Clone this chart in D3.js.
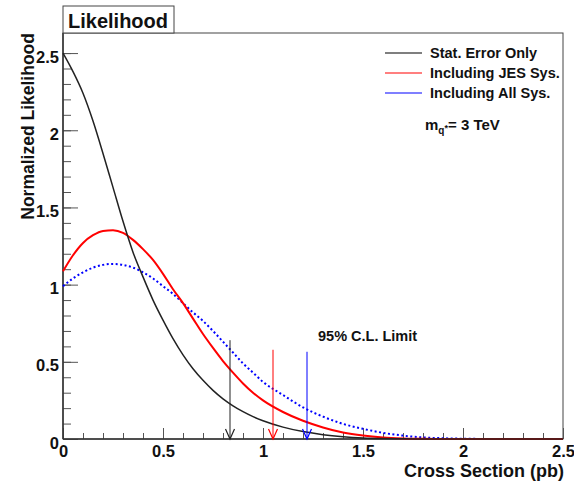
<!DOCTYPE html>
<html>
<head>
<meta charset="UTF-8">
<style>
  body { margin: 0; background: #fff; }
  svg { display: block; font-family: "Liberation Sans", Arial, Helvetica, sans-serif; font-weight: bold; }
</style>
</head>
<body>
<svg></svg>
<script src="https://d3js.org/d3.v7.min.js"></script>
<script>
// cross section grid (pb) shared by the three likelihood curves
let xs = [0, 0.05, 0.1, 0.15, 0.2, 0.25, 0.3, 0.35, 0.4, 0.45, 0.5, 0.55, 0.6, 0.65, 0.7, 0.75, 0.8, 0.85, 0.9, 0.95,
          1.0, 1.1, 1.2, 1.3, 1.4, 1.5, 1.6, 1.7, 1.8, 1.9, 2.0, 2.2, 2.5];
let statOnly = [2.5, 2.38, 2.24, 2.06, 1.85, 1.63, 1.41, 1.21, 1.05, 0.90, 0.77, 0.65, 0.545, 0.455, 0.38, 0.315, 0.26, 0.215, 0.177, 0.145,
                0.118, 0.077, 0.048, 0.028, 0.015, 0.007, 0.003, 0.001, 0, 0, 0, 0, 0];
let jesSys = [1.086, 1.19, 1.27, 1.32, 1.348, 1.352, 1.335, 1.29, 1.23, 1.16, 1.07, 0.97, 0.88, 0.78, 0.68, 0.59, 0.505, 0.43, 0.36, 0.30,
              0.25, 0.175, 0.118, 0.075, 0.042, 0.022, 0.01, 0.004, 0.001, 0, 0, 0, 0];
let allSys = [0.99, 1.04, 1.08, 1.11, 1.128, 1.134, 1.128, 1.11, 1.08, 1.04, 0.99, 0.94, 0.88, 0.82, 0.765, 0.70, 0.63, 0.56, 0.49, 0.43,
              0.37, 0.285, 0.205, 0.145, 0.098, 0.066, 0.04, 0.022, 0.01, 0.005, 0.002, 0, 0];

// 95% CL limits and arrow tops
let limitNames = ["Stat. Error Only", "Including JES Sys.", "Including All Sys."];
let limitValues = [0.835, 1.05, 1.22];
let arrowTops = [0.64, 0.578, 0.565];
let colors = ["#222222", "#ff0000", "#0000ff"];

let width = 574, height = 482;
let svg = d3.select("svg").attr("width", width).attr("height", height);

let x = d3.scaleLinear().domain([0, 2.5]).range([63, 563]);
let y = d3.scaleLinear().domain([0, 2.63]).range([439, 33]);

// frame
svg.append("rect")
  .attr("x", 63).attr("y", 33).attr("width", 500).attr("height", 406)
  .attr("fill", "none").attr("stroke", "#444").attr("stroke-width", 1);

// y axis, ticks inward
let fmt = d3.format("~g");
svg.append("g")
  .attr("transform", "translate(63,0)")
  .call(d3.axisLeft(y).tickValues(d3.range(0, 2.6, 0.1)).tickSize(-8).tickFormat(""))
  .call(g => g.select(".domain").remove())
  .selectAll("line").attr("stroke", "#555");
let yAx = svg.append("g")
  .attr("transform", "translate(63,0)")
  .call(d3.axisLeft(y).tickValues([0, 0.5, 1, 1.5, 2, 2.5]).tickSize(-15).tickPadding(4).tickFormat(fmt));
yAx.select(".domain").remove();
yAx.selectAll("line").attr("stroke", "#555");
yAx.selectAll("text").attr("dy", "0.55em").style("font-size", "16.5px").attr("fill", "#111")
  .style("font-family", "'Liberation Sans', Arial, sans-serif").style("font-weight", "bold");

// x axis, ticks inward
svg.append("g")
  .attr("transform", "translate(0,439)")
  .call(d3.axisBottom(x).tickValues(d3.range(0, 2.55, 0.1)).tickSize(-6).tickFormat(""))
  .call(g => g.select(".domain").remove())
  .selectAll("line").attr("stroke", "#555");
let xAx = svg.append("g")
  .attr("transform", "translate(0,439)")
  .call(d3.axisBottom(x).tickValues([0, 0.5, 1, 1.5, 2, 2.5]).tickSize(-11).tickPadding(6).tickFormat(fmt));
xAx.select(".domain").remove();
xAx.selectAll("line").attr("stroke", "#555");
xAx.selectAll("text").style("font-size", "16.5px").attr("fill", "#111")
  .style("font-family", "'Liberation Sans', Arial, sans-serif").style("font-weight", "bold");

// axis lines
svg.append("line").attr("x1", 63).attr("x2", 63).attr("y1", 33).attr("y2", 439)
  .attr("stroke", "#333").attr("stroke-width", 1.5);
svg.append("line").attr("x1", 63).attr("x2", 563).attr("y1", 439).attr("y2", 439)
  .attr("stroke", "#333").attr("stroke-width", 1.5);

// axis titles
svg.append("text")
  .attr("transform", "translate(34,33) rotate(-90)")
  .attr("text-anchor", "end")
  .style("font-size", "17.5px").attr("fill", "#111")
  .text("Normalized Likelihood");
svg.append("text")
  .attr("x", 564).attr("y", 477)
  .attr("text-anchor", "end")
  .style("font-size", "18px").attr("fill", "#111")
  .text("Cross Section (pb)");

// curves
let line = d3.line()
  .x((d, i) => x(xs[i]))
  .y(d => y(d))
  .curve(d3.curveMonotoneX);

svg.append("path").datum(allSys)
  .attr("d", line).attr("fill", "none")
  .attr("stroke", "#0000ff").attr("stroke-width", 2).attr("stroke-dasharray", "2,2.5");
svg.append("path").datum(jesSys)
  .attr("d", line).attr("fill", "none")
  .attr("stroke", "#ff0000").attr("stroke-width", 2);
svg.append("path").datum(statOnly)
  .attr("d", line).attr("fill", "none")
  .attr("stroke", "#222").attr("stroke-width", 1.5);

// limit arrows
limitValues.forEach((v, i) => {
  let ax = x(v), y0 = y(0);
  svg.append("line")
    .attr("x1", ax).attr("x2", ax).attr("y1", y(arrowTops[i])).attr("y2", y0)
    .attr("stroke", colors[i]).attr("stroke-width", 1);
  svg.append("path")
    .attr("d", "M" + (ax - 4.5) + "," + (y0 - 10) + "L" + ax + "," + y0 + "L" + (ax + 4.5) + "," + (y0 - 10))
    .attr("fill", "none").attr("stroke", colors[i]).attr("stroke-width", 1.2);
});

svg.append("text")
  .attr("x", 318).attr("y", 341)
  .style("font-size", "14.5px").attr("fill", "#111")
  .text("95% C.L. Limit");

// legend
limitNames.forEach((name, i) => {
  let ly = 53 + i * 20;
  svg.append("line")
    .attr("x1", 385).attr("x2", 422).attr("y1", ly).attr("y2", ly)
    .attr("stroke", i == 0 ? "#000" : colors[i]).attr("stroke-width", 1.2);
  svg.append("text")
    .attr("x", 430).attr("y", ly + 5)
    .style("font-size", "14.5px").attr("fill", "#111")
    .text(name);
});

let mq = svg.append("text")
  .attr("x", 425).attr("y", 130)
  .style("font-size", "15px").attr("fill", "#111");
mq.append("tspan").text("m");
mq.append("tspan").attr("dy", 4).style("font-size", "10px").text("q");
mq.append("tspan").attr("dy", -3).style("font-size", "9px").text("*");
mq.append("tspan").attr("dy", -1).text("= 3 TeV");

// title box
svg.append("rect")
  .attr("x", 63).attr("y", 6).attr("width", 111).attr("height", 27)
  .attr("fill", "#fff").attr("stroke", "#444").attr("stroke-width", 1);
svg.append("text")
  .attr("x", 68).attr("y", 28)
  .style("font-size", "20px").attr("fill", "#111")
  .text("Likelihood");
</script>
</body>
</html>
